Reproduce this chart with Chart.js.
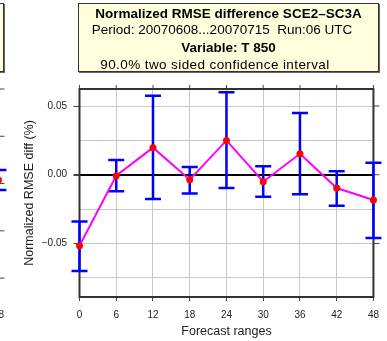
<!DOCTYPE html>
<html>
<head>
<meta charset="utf-8">
<title>Normalized RMSE difference SCE2-SC3A</title>
<script src="https://cdn.jsdelivr.net/npm/chart.js@4.4.1/dist/chart.umd.min.js"></script>
<style>
  html, body { margin: 0; padding: 0; background: #fff; overflow: hidden; }
  body { width: 387px; height: 341px; position: relative; font-family: "Liberation Sans", Arial, Helvetica, sans-serif; }
  .panel { position: absolute; top: 0; width: 387px; height: 341px; }
  .panel canvas { position: absolute; left: 0; top: 0; }
  .infobox {
    position: absolute; left: 78px; top: 3px; width: 299px; height: 67px;
    background: #ffffdd; border: 1px solid #333; box-shadow: 1px 1px 0 #666;
    text-align: center; color: #000;
  }
  .infobox div { position: absolute; left: 0; right: 0; white-space: nowrap; line-height: 16px; }
  .l1 { top: 2px; font-weight: bold; font-size: 13.5px; }
  .l2 { top: 17.5px; font-size: 13.5px; padding-right: 13px; }
  .l3 { top: 36px; font-weight: bold; font-size: 13.5px; }
  .l4 { top: 53px; font-size: 13.5px; letter-spacing: 0.4px; padding-right: 27px; }
</style>
</head>
<body>

<div class="panel" style="left:-375px">
  <div class="infobox"></div>
  <canvas id="leftChart" width="387" height="341"></canvas>
</div>

<div class="panel" style="left:0">
  <canvas id="mainChart" width="387" height="341"></canvas>
  <div class="infobox">
    <div class="l1">Normalized RMSE difference SCE2–SC3A</div>
    <div class="l2">Period: 20070608...20070715&nbsp; Run:06 UTC</div>
    <div class="l3">Variable: T 850</div>
    <div class="l4">90.0% two sided confidence interval</div>
  </div>
</div>

<script>
// ---- T 850, SCE2 - SC3A, normalized RMSE difference per forecast range ----
const ranges = [0, 6, 12, 18, 24, 30, 36, 42, 48];
const rmseDiff = [-0.0517, -0.0007, 0.0197, -0.0036, 0.0250, -0.0051, 0.0153, -0.0097, -0.0184];
const ciLow = [-0.0700, -0.0120, -0.0177, -0.0136, -0.0097, -0.0160, -0.0143, -0.0226, -0.0460];
const ciHigh = [-0.0340, 0.0107, 0.0575, 0.0056, 0.0600, 0.0061, 0.0450, 0.0025, 0.0087];
const yLabelled = [-0.05, 0, 0.05];

// neighbouring panel: only its 48 h end shows at the left edge
const leftRanges = [48];
const leftDiff = [0.0038];
const leftLow = [-0.0068];
const leftHigh = [0.0144];
const leftLabelled = [-0.1, -0.05, 0, 0.05, 0.1];

const FONT = "'Liberation Sans', Arial, Helvetica, sans-serif";
Chart.defaults.font.family = FONT;

const near = (a, b) => Math.abs(a - b) < 1e-9;

// blue confidence bars with caps
const errorBars = {
    id: "errorBars",
    beforeDatasetsDraw(chart, args, opts) {
        const { ctx, scales: { x, y } } = chart;
        ctx.save();
        ctx.strokeStyle = opts.color;
        ctx.lineWidth = opts.width;
        ctx.beginPath();
        opts.x.forEach((v, i) => {
            const px = x.getPixelForValue(v);
            const top = y.getPixelForValue(opts.high[i]);
            const bot = y.getPixelForValue(opts.low[i]);
            ctx.moveTo(px, top); ctx.lineTo(px, bot);
            ctx.moveTo(px - opts.cap, top); ctx.lineTo(px + opts.cap, top);
            ctx.moveTo(px - opts.cap, bot); ctx.lineTo(px + opts.cap, bot);
        });
        ctx.stroke();
        ctx.restore();
    }
};

// frame round the plot, plus the outer ticks on top and right
const plotFrame = {
    id: "plotFrame",
    beforeDatasetsDraw(chart, args, opts) {
        const { ctx, chartArea: a, scales: { x, y } } = chart;
        ctx.save();
        ctx.strokeStyle = "#444";
        ctx.lineWidth = 1;
        ctx.beginPath();
        x.ticks.forEach(t => {
            const px = x.getPixelForValue(t.value);
            ctx.moveTo(px, a.top); ctx.lineTo(px, a.top - 4);
        });
        opts.yMarks.forEach(v => {
            const py = y.getPixelForValue(v);
            ctx.moveTo(a.right, py); ctx.lineTo(a.right + 6, py);
        });
        ctx.stroke();
        ctx.lineWidth = 2;
        ctx.strokeStyle = "#333";
        ctx.strokeRect(a.left, a.top, a.right - a.left, a.bottom - a.top);
        ctx.restore();
    }
};

function renderPanel(canvasId, p) {
    const canvas = document.getElementById(canvasId);
    if (!canvas) return;
    const ctx = canvas.getContext("2d");
    const isLabelled = v => p.labelled.some(l => near(l, v));

    new Chart(ctx, {
        type: "line",
        data: {
            datasets: [{
                data: p.x.map((v, i) => ({ x: v, y: p.y[i] })),
                borderColor: "#ff00ff",
                borderWidth: 2,
                tension: 0,
                pointRadius: 3.5,
                pointBackgroundColor: "#ff0000",
                pointBorderWidth: 0,
                clip: false
            }]
        },
        options: {
            responsive: false,
            animation: false,
            layout: { padding: { top: 89, right: 8.5, left: 0, bottom: 0 } },
            plugins: {
                legend: { display: false },
                tooltip: { enabled: false },
                errorBars: { x: p.x, low: p.low, high: p.high, color: "#0000ff", width: 2.5, cap: 8 },
                plotFrame: { yMarks: p.labelled }
            },
            scales: {
                x: {
                    type: "linear",
                    min: 0,
                    max: 48,
                    afterFit: s => { s.height = 44; },
                    ticks: { stepSize: 6, color: "#222", font: { size: 10 }, padding: 8, maxRotation: 0 },
                    grid: { color: "#c8c8c8", tickColor: "#444", tickLength: 4 },
                    border: { display: false },
                    title: {
                        display: true, text: "Forecast ranges", color: "#222",
                        font: { size: 12.5 }, padding: { top: 0, bottom: 2 }
                    }
                },
                y: {
                    min: p.yMin,
                    max: p.yMax,
                    afterFit: s => { s.width = 79.5; },
                    ticks: {
                        stepSize: p.yStep,
                        includeBounds: false,
                        color: "#222",
                        font: { size: 10 },
                        padding: 6.5,
                        callback: v => isLabelled(v) ? (near(v, 0) ? "0.00" : v.toFixed(2).replace("-", "\u2212")) : ""
                    },
                    grid: {
                        color: c => near(c.tick.value, 0) ? "#000" : "#c8c8c8",
                        lineWidth: c => near(c.tick.value, 0) ? 2 : 1,
                        tickColor: c => isLabelled(c.tick.value) ? "#444" : "rgba(0,0,0,0)",
                        tickLength: 6
                    },
                    border: { display: false },
                    title: {
                        display: true, text: "Normalized RMSE diff (%)", color: "#222",
                        font: { size: 12.5 }, padding: { top: 22.5, bottom: 0 }
                    }
                }
            }
        },
        plugins: [plotFrame, errorBars]
    });
}

renderPanel("leftChart", {
    x: leftRanges, y: leftDiff, low: leftLow, high: leftHigh,
    yMin: -0.12, yMax: 0.1, yStep: 0.05, labelled: leftLabelled
});

renderPanel("mainChart", {
    x: ranges, y: rmseDiff, low: ciLow, high: ciHigh,
    yMin: -0.089, yMax: 0.0624, yStep: 0.025, labelled: yLabelled
});
</script>
</body>
</html>
